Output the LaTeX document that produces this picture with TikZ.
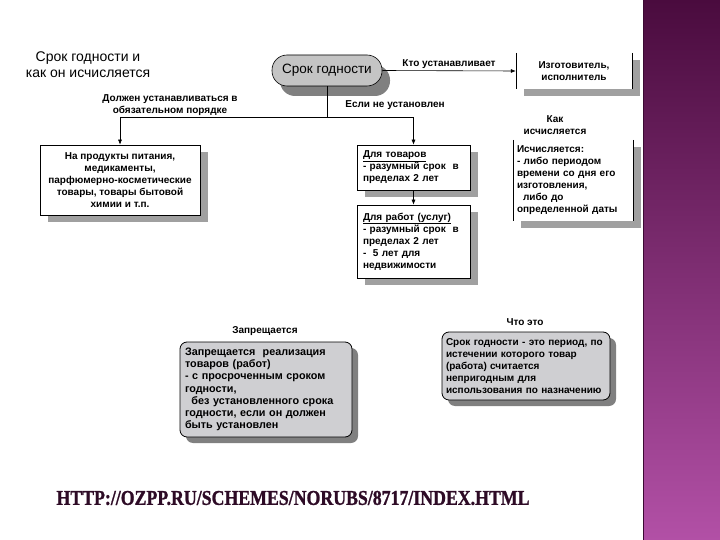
\documentclass[tikz,border=0pt]{standalone}
\usepackage{fontspec}
\setmainfont{Liberation Sans}
\newfontfamily\urlfont{Liberation Serif Bold}[FakeBold=1.2]
\usetikzlibrary{arrows.meta,shadows}
\definecolor{shadowgray}{HTML}{A0A0A0}
\definecolor{darkshadow}{HTML}{808080}
\definecolor{ovalfill}{HTML}{C4C4C4}
\definecolor{rfill}{HTML}{CFCFD2}
\definecolor{urlcol}{HTML}{2E0B26}
\definecolor{bandtop}{HTML}{4A0B3E}
\definecolor{bandbot}{HTML}{B250A6}
\tikzset{
  small/.style={font=\bfseries\fontsize{10}{12}\selectfont},
  lbl/.style={small, align=center, inner sep=0pt},
  sqbox/.style={small, draw=black, line width=0.6pt, fill=white, inner sep=4pt,
    general shadow={fill=shadowgray, shadow xshift=8pt, shadow yshift=-7pt}},
  openbox/.style={small, fill=white, inner sep=4pt,
    general shadow={fill=shadowgray, shadow xshift=8pt, shadow yshift=-7pt}},
  rbox/.style={small, draw=black, line width=0.8pt, fill=rfill, rounded corners=7pt, inner sep=4pt,
    general shadow={fill=darkshadow, shadow xshift=6pt, shadow yshift=-6pt}},
  arr/.style={-{Latex[length=5pt,width=4pt]}, line width=0.6pt},
  ln/.style={line width=0.6pt}
}
\begin{document}
\begin{tikzpicture}[x=1pt,y=-1pt]
\useasboundingbox (0,0) rectangle (720,540);
\fill[white] (0,0) rectangle (720,540);
\shade[top color=bandtop, bottom color=bandbot] (643,0) rectangle (720,540);
\draw[color=bandtop!80!black, line width=1.2pt] (643.6,0) -- (643.6,540);

\node[align=center, font=\fontsize{14}{16}\selectfont] (title) at (88,65) {Срок годности и\\как он исчисляется};

\node[draw=black, line width=0.6pt, fill=ovalfill, rounded corners=15pt, minimum width=110pt, minimum height=31pt,
  font=\fontsize{13.5}{15}\selectfont, general shadow={fill=darkshadow, shadow xshift=8pt, shadow yshift=-10pt}] (oval) at (327,70.5) {Срок годности};

\node[openbox, minimum width=116pt, minimum height=36pt, align=center] (izg) at (574,71) {Изготовитель,\\исполнитель};
\draw[ln] (izg.north west) -- (izg.south west) (izg.north east) -- (izg.south east);

\draw[arr] (oval.east) -- (izg.west) node[lbl, midway, above=2pt] (kto) {Кто устанавливает};

\node[sqbox, minimum width=160pt, minimum height=70pt, align=center] (box1) at (120,180)
  {На продукты питания,\\медикаменты,\\парфюмерно-косметические\\товары, товары бытовой\\химии и т.п.};
\node[sqbox, inner xsep=6pt, minimum width=113pt, minimum height=45pt, text width=101pt, align=left] (tov) at (413.5,167.5)
  {\underline{Для товаров}\\- разумный срок\ \ в\\пределах 2 лет};
\node[sqbox, inner xsep=6pt, minimum width=113pt, minimum height=73pt, text width=101pt, align=left] (rab) at (413.5,241.5)
  {\underline{Для работ (услуг)}\\- разумный срок\ \ в\\пределах 2 лет\\-\ \ 5 лет для\\недвижимости};
\node[openbox, minimum width=120pt, minimum height=81pt, text width=112pt, align=left] (isch) at (573,180.5)
  {Исчисляется:\\- либо периодом\\времени со дня его\\изготовления,\\\hspace*{0.6em}либо до\\определенной даты};
\draw[ln] (isch.north west) -- (isch.south west) (isch.north east) -- (isch.south east);

\coordinate (j) at (327,117);
\draw[ln] (oval.south) -- (j);
\draw[arr] (j) -| (box1.north);
\draw[arr] (j) -| (tov.north);
\draw[arr] (tov.south) -- (rab.north);

\node[lbl] (dolzh) at (170,105) {Должен устанавливаться в\\обязательном порядке};
\node[lbl] (esli) at (395,105) {Если не установлен};
\node[lbl] (kak) at (555,125) {Как\\исчисляется};

\node[lbl] (zaplbl) at (265,331) {Запрещается};
\node[rbox, inner xsep=5pt, minimum width=170pt, minimum height=95pt, text width=162pt, align=left,
  font=\bfseries\fontsize{10.8}{12.2}\selectfont] (zap) at (266,389.5)
  {Запрещается\ \ реализация\\товаров (работ)\\- с просроченным сроком\\годности,\\\hspace*{0.6em}без установленного срока\\годности, если он должен\\быть установлен};

\node[lbl] (chto) at (525,322) {Что это};
\node[rbox, minimum width=166pt, minimum height=68pt, text width=160pt, align=left] (sg) at (526,366)
  {Срок годности - это период, по\\истечении которого товар\\(работа) считается\\непригодным для\\использования по назначению};

\node[inner sep=0pt, text=urlcol] (url) at (293,498)
  {\resizebox{473pt}{14pt}{\urlfont\fontsize{20}{22}\selectfont HTTP://OZPP.RU/SCHEMES/NORUBS/8717/INDEX.HTML}};
\end{tikzpicture}
\end{document}
